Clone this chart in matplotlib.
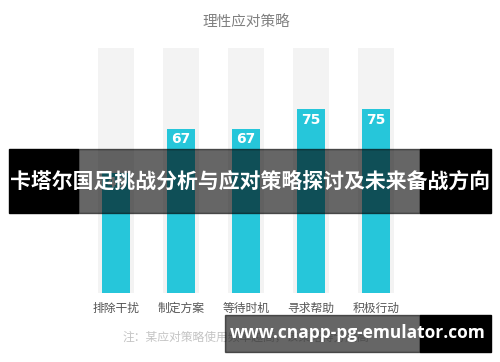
import matplotlib
matplotlib.use("Agg")
import matplotlib.pyplot as plt
from matplotlib.patches import Rectangle

plt.rcParams['font.family'] = ['Noto Sans CJK SC', 'DejaVu Sans']

categories = ['排除干扰', '制定方案', '等待时机', '寻求帮助', '积极行动']
values = [49, 67, 67, 75, 75]
full_score = 100
title = '理性应对策略'
note = '注：某应对策略使用频率越高，该策略得分越高'
banner = '卡塔尔国足挑战分析与应对策略探讨及未来备战方向'
watermark = 'www.cnapp-pg-emulator.com'

W, H = 500, 362
fig = plt.figure(figsize=(W / 100, H / 100), dpi=100)
fig.patch.set_facecolor('white')

ax = fig.add_axes([83.5 / W, 69 / H, 325 / W, 245 / H])
x = range(len(categories))
ax.bar(x, [full_score] * len(values), width=0.554, color='#f3f3f3', zorder=1)
bars = ax.bar(x, values, width=0.446, color='#26c6da', zorder=2)
for xi, v in zip(x, values):
    ax.annotate(str(v), (xi, v), xytext=(0, -2.5), textcoords='offset points',
                ha='center', va='top', color='white', fontsize=10,
                fontweight='bold', family='DejaVu Sans', zorder=3)
ax.set_xlim(-0.5, len(categories) - 0.5)
ax.set_ylim(0, full_score)
ax.axis('off')
for xi, c in zip(x, categories):
    ax.annotate(c, (xi, 0), xytext=(0, -11), textcoords='offset points',
                ha='center', va='center', color='#555555', fontsize=8.5)

fig.text(246 / W, 1 - 22 / H, title, ha='center', va='center',
         color='#808080', fontsize=10.5)
fig.text(246 / W, 1 - 337 / H, note, ha='center', va='center',
         color='#c4c4c4', fontsize=8.5)

# banner overlay
by, bh = (H - 213) / H, 64 / H
fig.patches.append(Rectangle((9 / W, by), 69 / W, bh, transform=fig.transFigure,
                             color='black', zorder=10))
fig.patches.append(Rectangle((78 / W, by), 342 / W, bh, transform=fig.transFigure,
                             color='black', alpha=0.6, zorder=10))
fig.patches.append(Rectangle((420 / W, by), 71 / W, bh, transform=fig.transFigure,
                             color='black', zorder=10))
fig.text(250 / W, by + bh / 2, banner, ha='center', va='center', color='white',
         fontsize=15, fontweight='bold', zorder=11)

# watermark
wy, wh = (H - 352) / H, 37 / H
fig.patches.append(Rectangle((225 / W, wy), 195 / W, wh, transform=fig.transFigure,
                             color='black', alpha=0.6, zorder=10))
fig.patches.append(Rectangle((420 / W, wy), 71 / W, wh, transform=fig.transFigure,
                             color='black', zorder=10))
fig.text(358 / W, wy + wh / 2, watermark, ha='center', va='center', color='white',
         fontsize=12.5, fontweight='bold', family='Open Sans', zorder=11)

fig.savefig('out.png', dpi=100)
